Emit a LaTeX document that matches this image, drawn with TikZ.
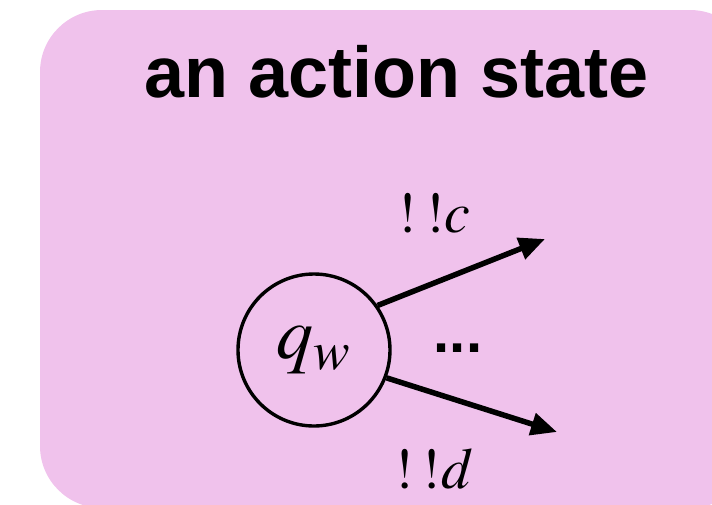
\documentclass[tikz,border=0pt]{standalone}
\usepackage{mathptmx}
\usepackage{fontspec}
\setsansfont{Liberation Sans}
\usepackage{xcolor}
\usetikzlibrary{arrows.meta}

\definecolor{actpink}{RGB}{240,194,236}

\begin{document}
\begin{tikzpicture}[
  x=1pt, y=-1pt,
  statebox/.style={fill=actpink, draw=none, rounded corners=62pt},
  state/.style={circle, draw, line width=3.4pt, minimum size=152pt,
                inner sep=0pt, font=\fontsize{74}{80}\selectfont},
  arrow/.style={-{Triangle[length=26pt,width=22pt]}, line width=5.5pt},
  lbl/.style={font=\fontsize{58}{64}\selectfont, anchor=base},
]
  \useasboundingbox (0,0) rectangle (712,504);
  \clip (0,0) rectangle (712,504);
  \fill[statebox] (40,10) rectangle (752,508);

  \node[anchor=base, font=\sffamily\bfseries\fontsize{72}{80}\selectfont]
    (title) at (396.5,97) {an action state};

  \node[state] (qw) at (314,350) {$q_w$};
  \coordinate (ctip) at (545,239);
  \coordinate (dtip) at (557,432);

  \draw[arrow] (qw.35) -- (ctip);
  \draw[arrow] (qw.-21) -- (dtip);

  \node[lbl] (lc) at (434,232) {$!\:!c$};
  \node[lbl] (ld) at (434,488) {$!\:!d$};
  \node[anchor=base, font=\sffamily\bfseries\fontsize{58}{60}\selectfont]
    (dots) at (458,352) {...};
\end{tikzpicture}
\end{document}
